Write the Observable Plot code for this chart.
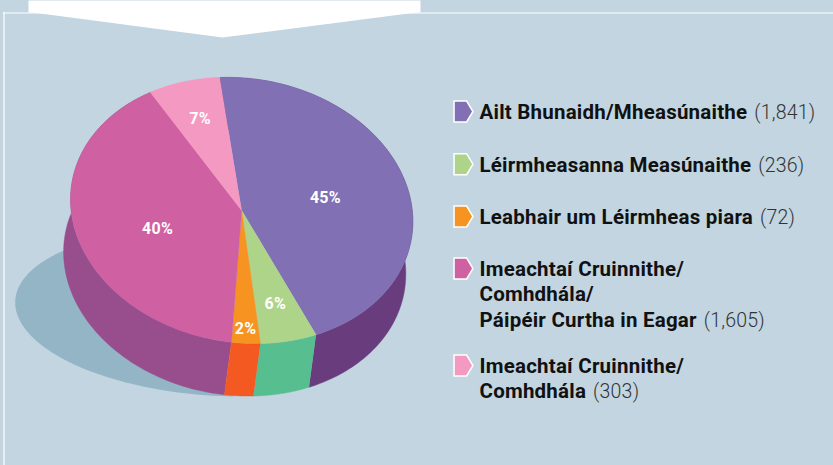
<!DOCTYPE html>
<html>
<head>
<meta charset="utf-8">
<script src="https://cdn.jsdelivr.net/npm/d3@7"></script>
<script src="https://cdn.jsdelivr.net/npm/@observablehq/plot@0.6"></script>
<style>html,body{margin:0;padding:0;background:#c2d5e0;overflow:hidden}</style>
</head>
<body>
<div id="chart"></div>
<script>
// Data
const categories = ["Ailt Bhunaidh/Mheasúnaithe","Léirmheasanna Measúnaithe","Leabhair um Léirmheas piara","Imeachtaí Cruinnithe/\nComhdhála/\nPáipéir Curtha in Eagar","Imeachtaí Cruinnithe/\nComhdhála"];
const counts = [1841,236,72,1605,303];
const sliceShares = [44.9,5.4,2.7,40.1,6.9];
const percentLabels = ["45%","6%","2%","40%","7%"];
const topColors = ["#8170b3","#aed48a","#f79320","#cf60a2","#f499c1"];
const sideColors = ["#693c7e","#57bf8f","#f45922","#984d8c","#f499c1"];

// Layout of the drawing
const W = 833, H = 465;
const pie = {cx:241.2, cy:210, A:172, B:132, phi:9*Math.PI/180, start:-14.3, dx:-7, dy:52.5};
const labelRadius = [0.51,0.71,0.88,0.52,0.72];
const labelTurn = [0,0,0,-4.5,0];
const legendBaseline = [120,172.7,225,277,374];
const legendLine = 25.3, legendX = 479, swatchX = 463, fs = 20.5, fsCount = 19.5, tracking = 0.22, textLift = 1.5;

const rad = d => d*Math.PI/180;
function project(theta, r=1){
  const u = r*Math.sin(rad(theta)), v = -r*Math.cos(rad(theta));
  return {
    x: pie.cx + pie.A*Math.cos(pie.phi)*u - pie.B*Math.sin(pie.phi)*v,
    y: pie.cy + pie.A*Math.sin(pie.phi)*u + pie.B*Math.cos(pie.phi)*v
  };
}
const total = d3.sum(sliceShares);
let acc = pie.start;
const slices = sliceShares.map((s,i)=>{
  const a0 = acc, a1 = acc + s/total*360; acc = a1;
  return {a0,a1,mid:(a0+a1)/2,i};
});
const arc = (a0,a1) => d3.range(0,121).map(k=>project(a0+(a1-a0)*k/120));
const topPts = s => [{x:pie.cx,y:pie.cy},...arc(s.a0,s.a1)];
const sidePts = s => {
  const a = arc(s.a0,s.a1);
  return [...a,...a.slice().reverse().map(p=>({x:p.x+pie.dx,y:p.y+pie.dy}))];
};
// ground shadow: only its left part shows from behind the pie
const shadow = d3.range(85,251,2).map(k=>{
  const t=rad(k);
  return {x:216+201.3*Math.cos(t), y:312+10*Math.cos(t)+83.4*Math.sin(t)};
});
const tab = [{x:28,y:0},{x:28,y:12},{x:36,y:12.5},{x:222,y:37},{x:412,y:12.5},{x:420,y:12},{x:420,y:0}];

const pentagon = {draw(ctx,size){
  const r=Math.sqrt(size/Math.PI);
  ctx.moveTo(-r*0.9,-r);ctx.lineTo(r*0.3,-r);ctx.lineTo(r*0.9,0);ctx.lineTo(r*0.3,r);ctx.lineTo(-r*0.9,r);ctx.closePath();
}};

const ctx = document.createElement("canvas").getContext("2d");
ctx.font = `700 ${fs}px Roboto`;
ctx.letterSpacing = `${tracking}px`;
const nameRows = [], countRows = [];
categories.forEach((c,i)=>{
  const lines = c.split("\n");
  lines.forEach((t,j)=>nameRows.push({t,y:legendBaseline[i]+j*legendLine-textLift}));
  const last = lines[lines.length-1];
  countRows.push({t:`(${d3.format(",")(counts[i])})`, x:legendX+ctx.measureText(last).width+7, y:legendBaseline[i]+(lines.length-1)*legendLine-textLift});
});
const swatches = categories.map((c,i)=>({y:legendBaseline[i]-9,color:topColors[i]}));

const marks = [
  Plot.ruleX([3.5],{y1:12,y2:H,stroke:"white",strokeWidth:1.2}),
  Plot.ruleY([12.5],{x1:3,x2:W,stroke:"white",strokeWidth:1.2}),
  Plot.line(tab,{x:"x",y:"y",fill:"white",stroke:"none"}),
  Plot.line(shadow,{x:"x",y:"y",fill:"#93b5c6",stroke:"none"}),
  ...[0,4,3,1,2].map(i=>Plot.line(sidePts(slices[i]),{x:"x",y:"y",fill:sideColors[i],stroke:sideColors[i],strokeWidth:0.4})),
  ...slices.map(s=>Plot.line(topPts(s),{x:"x",y:"y",fill:topColors[s.i],stroke:topColors[s.i],strokeWidth:0.4})),
  Plot.text(slices.map(s=>({...project(s.mid+labelTurn[s.i],labelRadius[s.i]),t:percentLabels[s.i]})),{x:"x",y:"y",text:"t",dy:1,fill:"white",fontWeight:700,fontSize:16,fontFamily:"Roboto"}),
  Plot.dot(swatches,{x:()=>swatchX,y:"y",symbol:pentagon,r:10.5,fill:"color",stroke:"white",strokeWidth:1.5}),
  Plot.text(nameRows,{x:()=>legendX,y:"y",text:"t",textAnchor:"start",lineAnchor:"bottom",fill:"#111",fontWeight:700,fontSize:fs,fontFamily:"Roboto"}),
  Plot.text(countRows,{x:"x",y:"y",text:"t",textAnchor:"start",lineAnchor:"bottom",fill:"#333",fontWeight:300,fontSize:fsCount,fontFamily:"Roboto"})
];

document.getElementById("chart").append(Plot.plot({
  width:W,height:H,margin:0,
  x:{domain:[0,W],range:[0,W],axis:null},
  y:{domain:[0,H],range:[0,H],axis:null},
  style:{background:"#c2d5e0",display:"block",letterSpacing:`${tracking}px`},
  marks
}));
</script>
</body>
</html>
